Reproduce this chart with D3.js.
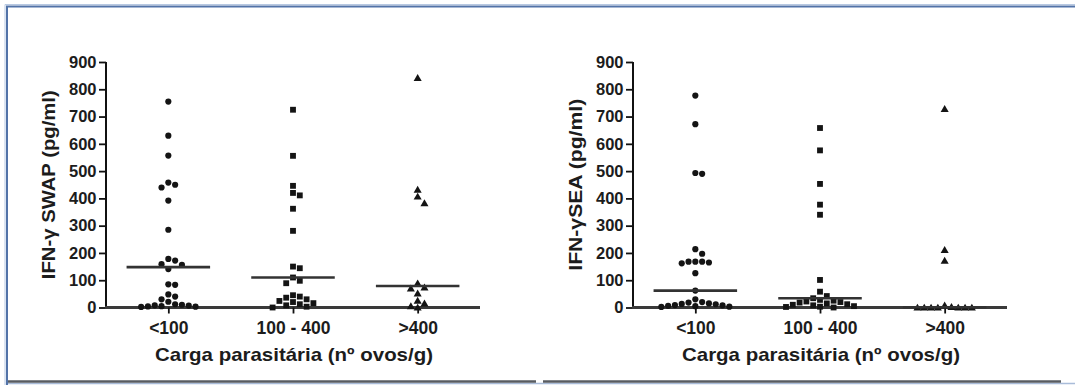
<!DOCTYPE html>
<html>
<head>
<meta charset="utf-8">
<script src="https://cdn.jsdelivr.net/npm/d3@7"></script>
<style>
  html, body { margin: 0; padding: 0; background: #ffffff; }
  svg { display: block; }
  text { font-family: "Liberation Sans", Arial, Helvetica, sans-serif; font-weight: bold; fill: #1c1c1c; }
</style>
</head>
<body>
<svg id="chart" width="1075" height="385"></svg>
<script>
// ---------- data ----------
const categories = ["<100", "100 - 400", ">400"];
const yTickValues = [0, 100, 200, 300, 400, 500, 600, 700, 800, 900];

// Panel 1: IFN-γ SWAP (pg/ml)
const swapLow  = [755, 630, 557, 458, 450, 440, 392, 285, 178, 172, 159, 156, 141, 85, 83, 48, 40, 30, 21, 12, 8, 5, 3, 2, 4, 7, 10];
const swapMid  = [725, 556, 446, 420, 411, 362, 281, 150, 144, 110, 98, 89, 45, 40, 36, 30, 24, 20, 16, 12, 8, 3, 0];
const swapHigh = [842, 432, 407, 383, 89, 74, 70, 52, 25, 15, 5, 0];
const swapCentre = [148, 110, 79];

// Panel 2: IFN-γSEA (pg/ml)
const seaLow  = [777, 672, 493, 490, 214, 197, 168, 168, 165, 162, 168, 126, 62, 30, 20, 15, 12, 8, 5, 2, 3, 6, 9, 13, 18];
const seaMid  = [658, 576, 453, 377, 340, 101, 58, 42, 34, 28, 25, 22, 20, 18, 15, 12, 10, 8, 5, 3, 2, 0];
const seaHigh = [728, 211, 172, 8, 2, 0, 0, 0, 0, 0, 0, 0];
const seaCentre = [62, 34, 1];

const yTitles = ["IFN-\u03B3 SWAP (pg/ml)", "IFN-\u03B3SEA (pg/ml)"];
const xTitle = "Carga parasitária (nº ovos/g)";

const panels = [
  { groups: [swapLow, swapMid, swapHigh], centre: swapCentre, yTitle: yTitles[0], yTitleLen: 189 },
  { groups: [seaLow, seaMid, seaHigh], centre: seaCentre, yTitle: yTitles[1], yTitleLen: 172 }
];
const symbols = [d3.symbolCircle, d3.symbolSquare, d3.symbolTriangle];
const symbolSizes = [30, 34, 28];

// ---------- frame ----------
const svg = d3.select("#chart");
const W = 1075, H = 385;
svg.append("line").attr("x1", 5).attr("x2", W).attr("y1", 4.5).attr("y2", 4.5).attr("stroke", "#b8c9e2").attr("stroke-width", 1);
svg.append("line").attr("x1", 6).attr("x2", W).attr("y1", 6.5).attr("y2", 6.5).attr("stroke", "#5273a8").attr("stroke-width", 2);
svg.append("line").attr("x1", 5).attr("x2", 5).attr("y1", 4.5).attr("y2", H).attr("stroke", "#b8c9e2").attr("stroke-width", 1);
svg.append("line").attr("x1", 7).attr("x2", 7).attr("y1", 6).attr("y2", H).attr("stroke", "#5273a8").attr("stroke-width", 2);
svg.append("line").attr("x1", 8).attr("x2", W).attr("y1", 383.5).attr("y2", 383.5).attr("stroke", "#a9bcd9").attr("stroke-width", 1.5);
[[8, 536], [543, 1061]].forEach(([a, b]) => {
  svg.append("line").attr("x1", a).attr("x2", b).attr("y1", 381.5).attr("y2", 381.5).attr("stroke", "#585c62").attr("stroke-width", 2.5);
});

// ---------- beeswarm helper ----------
function swarm(values, cx, y, step, minD) {
  const pts = values.map((v, i) => ({ v, i, py: y(v) })).sort((a, b) => a.py - b.py);
  const placed = [];
  pts.forEach(p => {
    for (let k = 0; k < 40; k++) {
      const off = k === 0 ? 0 : (k % 2 === 1 ? Math.ceil(k / 2) : -Math.ceil(k / 2));
      const x = cx + off * step;
      const hit = placed.some(q => (q.px - x) ** 2 + (q.py - p.py) ** 2 < minD * minD);
      if (!hit) { p.px = x; placed.push(p); break; }
    }
  });
  return placed;
}

// ---------- panels ----------
const panelOffset = 527;
panels.forEach((panel, pi) => {
  const ox = pi * panelOffset;
  const g = svg.append("g").attr("transform", `translate(${ox},0)`);

  const x = d3.scalePoint().domain(categories).range([106, 480]).padding(0.5);
  const y = d3.scaleLinear().domain([0, 900]).range([307.5, 62]);

  // y axis
  const yAxis = g.append("g").attr("transform", "translate(106,0)")
    .call(d3.axisLeft(y).tickValues(yTickValues).tickSize(7).tickPadding(2.5).tickFormat(d3.format("d")));
  yAxis.select(".domain").attr("stroke", "#111").attr("stroke-width", 2).attr("d", `M0,${y(0)}V${y(900)}`);
  yAxis.selectAll(".tick line").attr("stroke", "#111").attr("stroke-width", 1.8);
  yAxis.selectAll(".tick text").style("font-size", "16.5px").attr("fill", "#1c1c1c")
    .style("font-family", '"Liberation Sans", Arial, sans-serif').style("font-weight", "bold");

  // x axis
  const xAxis = g.append("g").attr("transform", `translate(0,${y(0)})`)
    .call(d3.axisBottom(x).tickSize(6).tickPadding(8));
  xAxis.select(".domain").attr("stroke", "#3a3a3a").attr("stroke-width", 3).attr("d", "M105,0H480");
  xAxis.selectAll(".tick line").attr("stroke", "#111").attr("stroke-width", 1.8);
  xAxis.selectAll(".tick text").style("font-size", "17.5px").attr("fill", "#1c1c1c")
    .style("font-family", '"Liberation Sans", Arial, sans-serif').style("font-weight", "bold");

  // points
  panel.groups.forEach((vals, gi) => {
    const cx = x(categories[gi]);
    const pts = swarm(vals, cx, y, 6.8, 6.6);
    const sym = d3.symbol().type(symbols[gi]).size(symbolSizes[gi]);
    g.append("g").selectAll("path").data(pts).join("path")
      .attr("d", sym)
      .attr("transform", d => `translate(${d.px},${d.py + (gi === 2 ? 0.8 : 0)})`)
      .attr("fill", "#141414");
  });

  // central tendency lines
  const half = x.step() * 0.335;
  g.append("g").selectAll("line").data(panel.centre).join("line")
    .attr("x1", (d, i) => x(categories[i]) - half)
    .attr("x2", (d, i) => x(categories[i]) + half)
    .attr("y1", d => y(d)).attr("y2", d => y(d))
    .attr("stroke", "#333").attr("stroke-width", 2.6);

  // titles
  g.append("text")
    .attr("transform", `translate(55,${(y(0) + y(900)) / 2}) rotate(-90)`)
    .attr("text-anchor", "middle")
    .attr("textLength", panel.yTitleLen).attr("lengthAdjust", "spacingAndGlyphs")
    .style("font-size", "18.5px")
    .text(panel.yTitle);

  g.append("text")
    .attr("x", 294).attr("y", 361)
    .attr("text-anchor", "middle")
    .attr("textLength", 278).attr("lengthAdjust", "spacingAndGlyphs")
    .style("font-size", "18.5px")
    .text(xTitle);
});
</script>
</body>
</html>
